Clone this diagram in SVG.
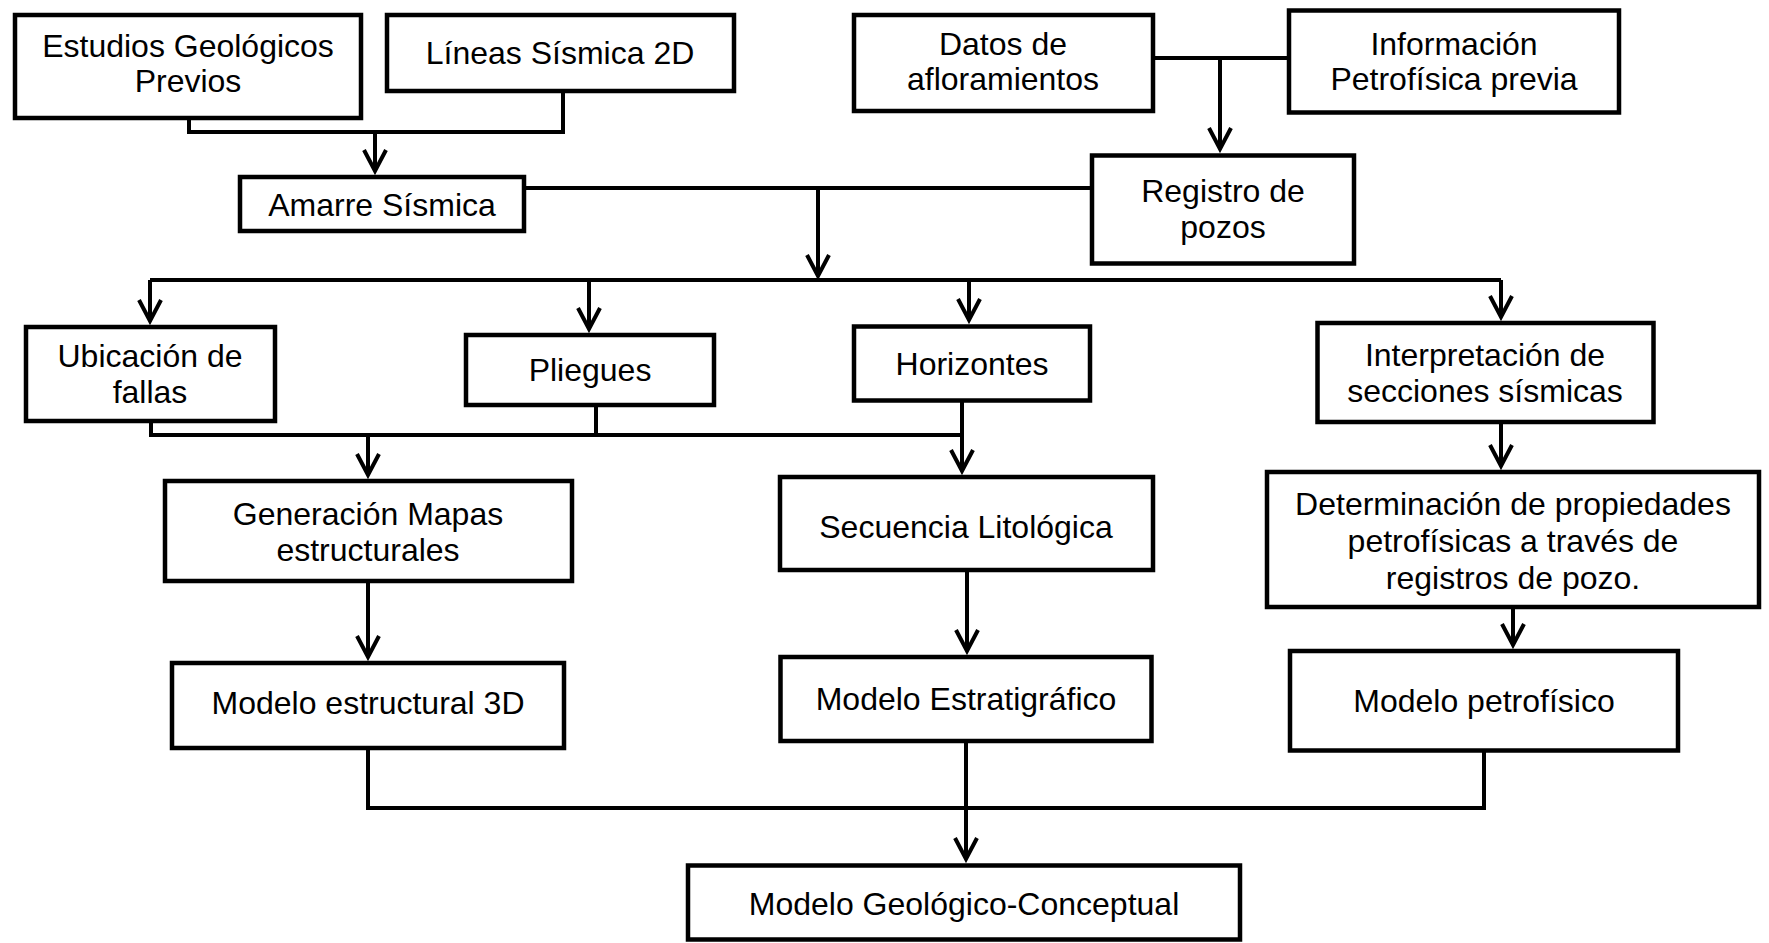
<svg xmlns="http://www.w3.org/2000/svg" width="1769" height="943" viewBox="0 0 1769 943">
<style>
.box{fill:#fff;stroke:#000;stroke-width:4.5}
.t{font-family:"Liberation Sans",Arial,sans-serif;font-size:32px;fill:#000;text-anchor:middle}
.c{fill:none;stroke:#000;stroke-width:4;stroke-linejoin:miter}
</style>
<defs>
<marker id="ah" markerUnits="userSpaceOnUse" viewBox="-26 -15 30 30" refX="0" refY="0" markerWidth="30" markerHeight="30" orient="auto" overflow="visible">
<path d="M-21,-11 L0,0 L-21,11" fill="none" stroke="#000" stroke-width="4"/>
</marker>
</defs>
<rect width="1769" height="943" fill="#fff"/>
<g id="connectors">
<path class="c" d="M189,119 V132 H563 V92"/>
<path class="c" d="M375,132 V171" marker-end="url(#ah)"/>
<path class="c" d="M1153,58 H1289"/>
<path class="c" d="M1220,58 V149" marker-end="url(#ah)"/>
<path class="c" d="M524,188 H1092"/>
<path class="c" d="M818,188 V276" marker-end="url(#ah)"/>
<path class="c" d="M150,280 H1501"/>
<path class="c" d="M150,280 V321" marker-end="url(#ah)"/>
<path class="c" d="M589,280 V329" marker-end="url(#ah)"/>
<path class="c" d="M969,280 V320" marker-end="url(#ah)"/>
<path class="c" d="M1501,280 V317" marker-end="url(#ah)"/>
<path class="c" d="M151,423 V435 H962"/>
<path class="c" d="M596,407 V435"/>
<path class="c" d="M962,402 V471" marker-end="url(#ah)"/>
<path class="c" d="M368,435 V475" marker-end="url(#ah)"/>
<path class="c" d="M1501,424 V466" marker-end="url(#ah)"/>
<path class="c" d="M368,583 V657" marker-end="url(#ah)"/>
<path class="c" d="M967,572 V651" marker-end="url(#ah)"/>
<path class="c" d="M1513,607 V645" marker-end="url(#ah)"/>
<path class="c" d="M368,750 V808 H1484 V752"/>
<path class="c" d="M966,743 V859" marker-end="url(#ah)"/>
</g>
<g id="n-estudios"><rect class="box" x="15" y="15" width="346" height="103"/><text class="t" x="188" y="57">Estudios Geológicos</text><text class="t" x="188" y="92">Previos</text></g>
<g id="n-lineas"><rect class="box" x="387" y="15" width="347" height="76"/><text class="t" x="560" y="64">Líneas Sísmica 2D</text></g>
<g id="n-datos"><rect class="box" x="854" y="15" width="299" height="96"/><text class="t" x="1003" y="55">Datos de</text><text class="t" x="1003" y="90">afloramientos</text></g>
<g id="n-informacion"><rect class="box" x="1289" y="10.5" width="330" height="102"/><text class="t" x="1454" y="55">Información</text><text class="t" x="1454" y="90">Petrofísica previa</text></g>
<g id="n-amarre"><rect class="box" x="240" y="177" width="284" height="54"/><text class="t" x="382" y="216">Amarre Sísmica</text></g>
<g id="n-registro"><rect class="box" x="1092" y="155.5" width="262" height="108"/><text class="t" x="1223" y="202">Registro de</text><text class="t" x="1223" y="238">pozos</text></g>
<g id="n-ubicacion"><rect class="box" x="26" y="327" width="249" height="94"/><text class="t" x="150" y="367">Ubicación de</text><text class="t" x="150" y="403">fallas</text></g>
<g id="n-pliegues"><rect class="box" x="466" y="335" width="248" height="70"/><text class="t" x="590" y="381">Pliegues</text></g>
<g id="n-horizontes"><rect class="box" x="854" y="326.5" width="236" height="74"/><text class="t" x="972" y="375">Horizontes</text></g>
<g id="n-interpretacion"><rect class="box" x="1317.5" y="323" width="336" height="99"/><text class="t" x="1485" y="366">Interpretación de</text><text class="t" x="1485" y="402">secciones sísmicas</text></g>
<g id="n-generacion"><rect class="box" x="165" y="481" width="407" height="100"/><text class="t" x="368" y="525">Generación Mapas</text><text class="t" x="368" y="561">estructurales</text></g>
<g id="n-secuencia"><rect class="box" x="780" y="477" width="373" height="93"/><text class="t" x="966" y="538">Secuencia Litológica</text></g>
<g id="n-determinacion"><rect class="box" x="1267" y="472" width="492" height="135"/><text class="t" x="1513" y="515">Determinación de propiedades</text><text class="t" x="1513" y="552">petrofísicas a través de</text><text class="t" x="1513" y="589">registros de pozo.</text></g>
<g id="n-estructural"><rect class="box" x="172" y="663" width="392" height="85"/><text class="t" x="368" y="714">Modelo estructural 3D</text></g>
<g id="n-estratigrafico"><rect class="box" x="780.5" y="657" width="371" height="84"/><text class="t" x="966" y="710">Modelo Estratigráfico</text></g>
<g id="n-petrofisico"><rect class="box" x="1290" y="651" width="388" height="99.5"/><text class="t" x="1484" y="712">Modelo petrofísico</text></g>
<g id="n-geologico"><rect class="box" x="688" y="865.5" width="552" height="74"/><text class="t" x="964" y="915">Modelo Geológico-Conceptual</text></g>
</svg>
